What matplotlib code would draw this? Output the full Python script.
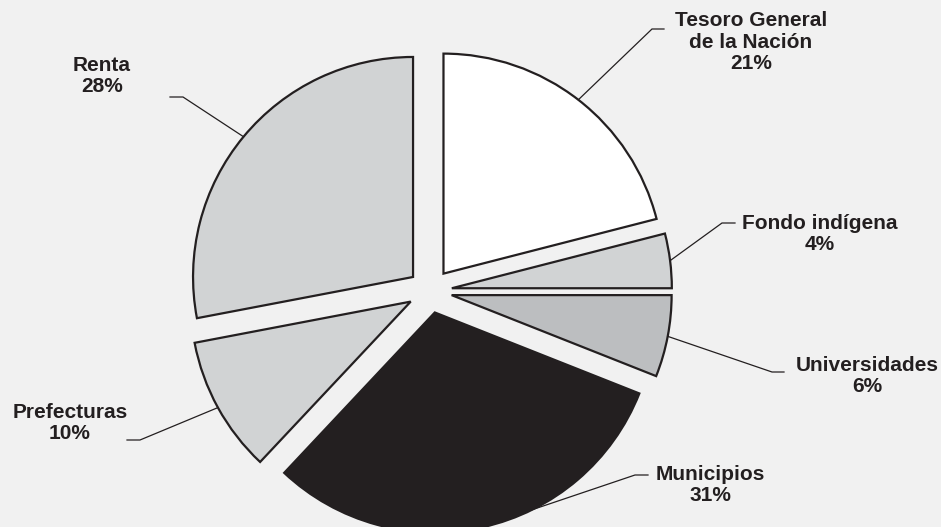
import numpy as np
import matplotlib
matplotlib.use("Agg")
import matplotlib.pyplot as plt

# ---- data ----
categories = ["Tesoro General\nde la Nación", "Fondo indígena", "Universidades",
              "Municipios", "Prefecturas", "Renta"]
shares = [21, 4, 6, 31, 10, 28]
colors = ["#ffffff", "#d1d3d4", "#bcbec0", "#231f20", "#d1d3d4", "#d1d3d4"]

# ---- layout (image pixel coords, y down) ----
W, H = 941, 527
center_img = (430, 291)
radius = 220
explode_frac = 0.1
label_pos = [(751, 42), (820, 234), (867, 376), (710, 485), (70, 423), (102, 76)]
label_ha_end = [(664, 29, 652), (735, 223, 722), (784, 372, 772),
                (648, 475, 635), (127, 440, 140), (170, 97, 183)]
anchor_frac = [0.5, 0.5, 0.5, 0.377, 0.5, 0.5]

BG = "#f1f1f1"
TXT = "#231f20"

fig = plt.figure(figsize=(W / 100, H / 100), dpi=100, facecolor=BG)
ax = fig.add_axes([0, 0, 1, 1])
ax.set_facecolor(BG)

cx, cy = center_img[0], H - center_img[1]
wedges, _ = ax.pie(shares, colors=colors,
                   explode=[explode_frac * radius] * len(shares),
                   startangle=90, counterclock=False, radius=radius, center=(cx, cy),
                   wedgeprops=dict(edgecolor=TXT, linewidth=1.6, joinstyle="miter"))
ax.set_xlim(0, W)
ax.set_ylim(0, H)
ax.set_aspect("equal")
ax.axis("off")

for w, lab, share, (lx, ly), (x0, y0, x1), fr in zip(wedges, categories, shares,
                                                     label_pos, label_ha_end, anchor_frac):
    t1, t2 = w.theta1, w.theta2
    ang = np.deg2rad(t2 - fr * (t2 - t1))
    wcx, wcy = w.center
    r = w.r
    axp = wcx + r * np.cos(ang)
    ayp = wcy + r * np.sin(ang)
    ax.plot([x0, x1, axp], [H - y0, H - y0, ayp], color=TXT, lw=0.9,
            solid_joinstyle="miter", zorder=3)
    ax.text(lx, H - ly, f"{lab}\n{share}%", ha="center", va="center",
            multialignment="center", fontsize=15, fontweight="bold",
            family=["Liberation Sans", "DejaVu Sans"], color=TXT, linespacing=1.17)

fig.savefig("out.png", dpi=100, facecolor=BG)
